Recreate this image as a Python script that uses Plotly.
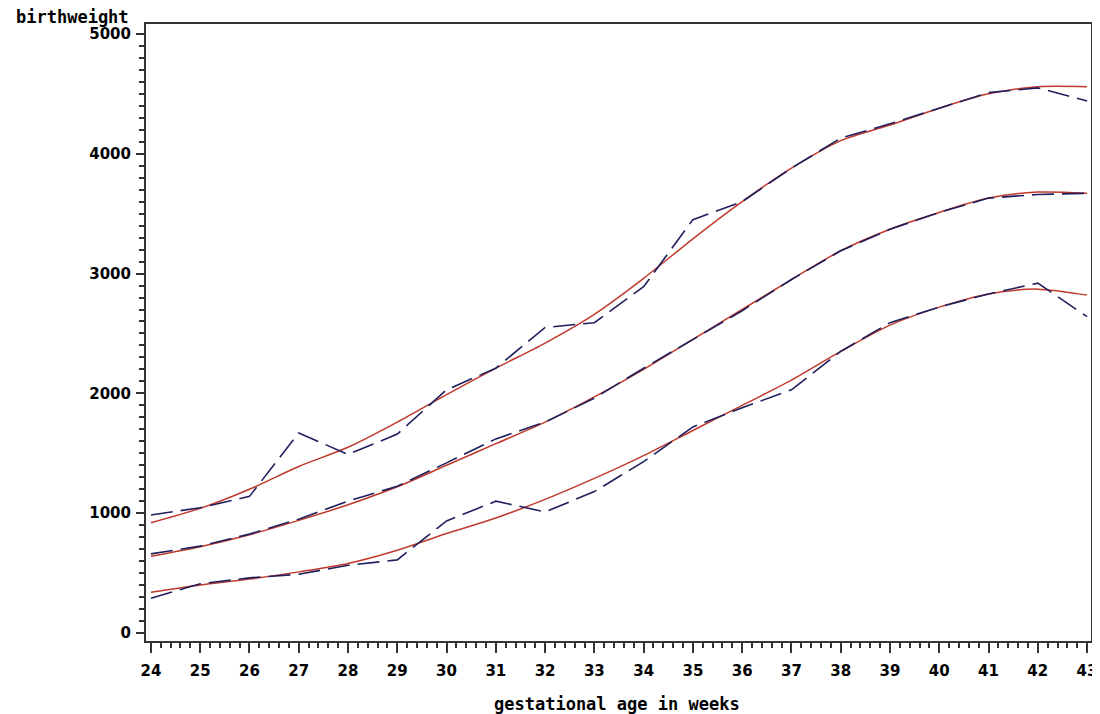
import plotly.graph_objects as go

weeks = list(range(24, 44))

upper_obs = [985, 1045, 1140, 1670, 1490, 1660, 2030, 2210, 2550, 2590,
             2890, 3450, 3600, 3880, 4130, 4250, 4380, 4510, 4550, 4440]
upper_fit = [920, 1040, 1200, 1390, 1550, 1760, 1990, 2210, 2420, 2660,
             2960, 3290, 3600, 3880, 4110, 4240, 4380, 4500, 4560, 4560]

middle_obs = [660, 725, 825, 950, 1100, 1225, 1420, 1620, 1760, 1960,
              2210, 2450, 2690, 2950, 3190, 3370, 3510, 3630, 3660, 3670]
middle_fit = [640, 720, 820, 940, 1070, 1220, 1400, 1580, 1760, 1970,
              2200, 2450, 2700, 2950, 3190, 3370, 3510, 3630, 3680, 3670]

lower_obs = [290, 410, 460, 490, 565, 610, 935, 1100, 1010, 1180,
             1430, 1720, 1880, 2030, 2350, 2590, 2720, 2830, 2920, 2640]
lower_fit = [340, 400, 450, 510, 580, 690, 830, 960, 1115, 1290,
             1480, 1690, 1900, 2110, 2350, 2570, 2720, 2830, 2870, 2820]

x_tick_vals = weeks
y_tick_vals = [0, 1000, 2000, 3000, 4000, 5000]

RED = "#c0392b"
NAVY = "#1f1f5e"

# page body has an 8px default margin; compensate so the plot lands where the reference has it
OFF = 8
L, R, T, B = 146, 3, 24, 73
W, H = 1100, 714
plot_w = W - L - R
plot_h = H - T - B

fig = go.Figure()
for fit in (upper_fit, middle_fit, lower_fit):
    fig.add_trace(go.Scatter(x=weeks, y=fit, mode="lines",
                             line=dict(color=RED, width=1.5, shape="spline", smoothing=0.8),
                             hoverinfo="skip", showlegend=False))
for obs in (upper_obs, middle_obs, lower_obs):
    fig.add_trace(go.Scatter(x=weeks, y=obs, mode="lines",
                             line=dict(color=NAVY, width=1.6, dash="22px,8px"),
                             hoverinfo="skip", showlegend=False))

tickfont = dict(family="DejaVu Sans", size=15, color="black", weight="bold")
titlefont = dict(family="DejaVu Sans Mono", size=17, color="black", weight="bold")

fig.update_layout(
    width=W - OFF, height=H - OFF,
    margin=dict(l=L - OFF, r=R, t=T - OFF, b=B, pad=0),
    paper_bgcolor="white", plot_bgcolor="white",
    xaxis=dict(range=[23.9, 43.08], tickvals=x_tick_vals, showgrid=False, zeroline=False,
               showline=True, linecolor="#333333", linewidth=2, mirror=True,
               ticks="outside", ticklen=10, tickwidth=2, tickcolor="#333333",
               tickfont=tickfont, ticklabelstandoff=5, ticklabeloverflow="allow",
               minor=dict(ticks="outside", dtick=0.2, ticklen=5, tickwidth=2,
                          tickcolor="#333333", showgrid=False)),
    yaxis=dict(range=[-67, 5083], tickvals=y_tick_vals, showgrid=False, zeroline=False,
               showline=True, linecolor="#333333", linewidth=2, mirror=True,
               ticks="outside", ticklen=8, tickwidth=2, tickcolor="#333333",
               tickfont=tickfont, ticklabelstandoff=2,
               minor=dict(ticks="outside", dtick=100, ticklen=5, tickwidth=2,
                          tickcolor="#333333", showgrid=False)),
    annotations=[
        dict(text="gestational age in weeks", xref="paper", yref="paper",
             x=(620 - L) / plot_w, y=-(704 - (H - B)) / plot_h, xanchor="center", yanchor="middle",
             showarrow=False, font=titlefont),
        dict(text="birthweight", xref="paper", yref="paper",
             x=(131 - L) / plot_w, y=((H - B) - 17) / plot_h, xanchor="right", yanchor="middle",
             showarrow=False, font=titlefont),
    ],
)

fig.write_html("out.html")
